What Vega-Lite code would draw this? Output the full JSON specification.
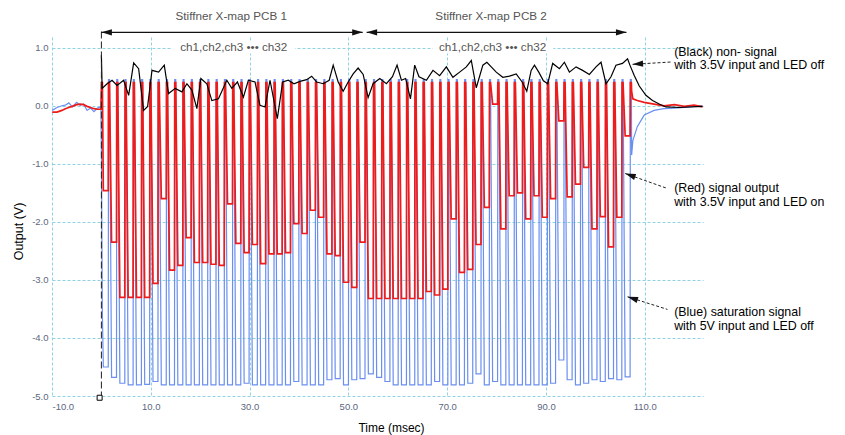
{
"$schema":"https://vega.github.io/schema/vega-lite/v6.json",
"width":651,"height":359,
"autosize":{"type":"none"},
"padding":{"left":52,"top":37,"right":142,"bottom":39},
"background":"white",
"config":{"view":{"stroke":null},"font":"Liberation Sans"},
"datasets":{
"ch":[
{"t":-9.96,"r":-0.11,"b":-0.08},{"t":-9.0,"r":-0.11,"b":-0.03},{"t":-8.0,"r":-0.08,"b":0.0},{"t":-7.3,"r":-0.05,"b":0.01},{"t":-6.6,"r":-0.03,"b":0.05},{"t":-5.9,"r":-0.01,"b":-0.02},{"t":-5.0,"r":0.02,"b":0.06},{"t":-4.3,"r":0.03,"b":0.01},{"t":-3.6,"r":0.02,"b":0.03},{"t":-2.9,"r":-0.01,"b":-0.08},{"t":-2.2,"r":-0.03,"b":-0.04},{"t":-1.5,"r":-0.05,"b":-0.1},{"t":-0.8,"r":-0.06,"b":-0.04},{"t":-0.1,"r":-0.06,"b":-0.02},{"t":0.02,"r":0.4,"b":-0.9},{"t":0.2,"r":0.4,"b":-3.6},
{"t":0.39,"r":-1.46,"b":-4.5},{"t":1.39,"r":-1.46,"b":-4.5},{"t":1.44,"r":0.4,"b":0.45},{"t":1.64,"r":0.4,"b":0.45},
{"t":2.06,"r":-2.35,"b":-4.68},{"t":3.06,"r":-2.35,"b":-4.68},{"t":3.11,"r":0.4,"b":0.45},{"t":3.31,"r":0.4,"b":0.45},
{"t":3.74,"r":-3.3,"b":-4.78},{"t":4.74,"r":-3.3,"b":-4.78},{"t":4.79,"r":0.4,"b":0.45},{"t":4.99,"r":0.4,"b":0.45},
{"t":5.42,"r":-3.3,"b":-4.81},{"t":6.42,"r":-3.3,"b":-4.81},{"t":6.47,"r":0.4,"b":0.45},{"t":6.67,"r":0.4,"b":0.45},
{"t":7.1,"r":-3.3,"b":-4.81},{"t":8.1,"r":-3.3,"b":-4.81},{"t":8.15,"r":0.4,"b":0.45},{"t":8.35,"r":0.4,"b":0.45},
{"t":8.77,"r":-3.3,"b":-4.8},{"t":9.77,"r":-3.3,"b":-4.8},{"t":9.82,"r":0.4,"b":0.45},{"t":10.02,"r":0.4,"b":0.45},
{"t":10.45,"r":-3.06,"b":-4.75},{"t":11.45,"r":-3.06,"b":-4.75},{"t":11.5,"r":0.4,"b":0.45},{"t":11.7,"r":0.4,"b":0.45},
{"t":12.13,"r":-1.6,"b":-4.81},{"t":13.13,"r":-1.6,"b":-4.81},{"t":13.18,"r":0.4,"b":0.45},{"t":13.38,"r":0.4,"b":0.45},
{"t":13.8,"r":-2.83,"b":-4.81},{"t":14.8,"r":-2.83,"b":-4.81},{"t":14.85,"r":0.4,"b":0.45},{"t":15.05,"r":0.4,"b":0.45},
{"t":15.48,"r":-2.75,"b":-4.81},{"t":16.48,"r":-2.75,"b":-4.81},{"t":16.53,"r":0.4,"b":0.45},{"t":16.73,"r":0.4,"b":0.45},
{"t":17.16,"r":-2.27,"b":-4.81},{"t":18.16,"r":-2.27,"b":-4.81},{"t":18.21,"r":0.4,"b":0.45},{"t":18.41,"r":0.4,"b":0.45},
{"t":18.83,"r":-2.7,"b":-4.81},{"t":19.83,"r":-2.7,"b":-4.81},{"t":19.88,"r":0.4,"b":0.45},{"t":20.08,"r":0.4,"b":0.45},
{"t":20.51,"r":-2.7,"b":-4.81},{"t":21.51,"r":-2.7,"b":-4.81},{"t":21.56,"r":0.4,"b":0.45},{"t":21.76,"r":0.4,"b":0.45},
{"t":22.19,"r":-2.73,"b":-4.81},{"t":23.19,"r":-2.73,"b":-4.81},{"t":23.24,"r":0.4,"b":0.45},{"t":23.44,"r":0.4,"b":0.45},
{"t":23.87,"r":-2.75,"b":-4.81},{"t":24.87,"r":-2.75,"b":-4.81},{"t":24.92,"r":0.4,"b":0.45},{"t":25.12,"r":0.4,"b":0.45},
{"t":25.54,"r":-1.69,"b":-4.81},{"t":26.54,"r":-1.69,"b":-4.81},{"t":26.59,"r":0.4,"b":0.45},{"t":26.79,"r":0.4,"b":0.45},
{"t":27.22,"r":-2.37,"b":-4.81},{"t":28.22,"r":-2.37,"b":-4.81},{"t":28.27,"r":0.4,"b":0.45},{"t":28.47,"r":0.4,"b":0.45},
{"t":28.9,"r":-2.53,"b":-4.78},{"t":29.9,"r":-2.53,"b":-4.78},{"t":29.95,"r":0.4,"b":0.45},{"t":30.15,"r":0.4,"b":0.45},
{"t":30.57,"r":-2.39,"b":-4.81},{"t":31.57,"r":-2.39,"b":-4.81},{"t":31.62,"r":0.4,"b":0.45},{"t":31.82,"r":0.4,"b":0.45},
{"t":32.25,"r":-2.72,"b":-4.81},{"t":33.25,"r":-2.72,"b":-4.81},{"t":33.3,"r":0.4,"b":0.45},{"t":33.5,"r":0.4,"b":0.45},
{"t":33.93,"r":-2.55,"b":-4.81},{"t":34.93,"r":-2.55,"b":-4.81},{"t":34.98,"r":0.4,"b":0.45},{"t":35.18,"r":0.4,"b":0.45},
{"t":35.6,"r":-2.55,"b":-4.81},{"t":36.6,"r":-2.55,"b":-4.81},{"t":36.65,"r":0.4,"b":0.45},{"t":36.85,"r":0.4,"b":0.45},
{"t":37.28,"r":-2.53,"b":-4.81},{"t":38.28,"r":-2.53,"b":-4.81},{"t":38.33,"r":0.4,"b":0.45},{"t":38.53,"r":0.4,"b":0.45},
{"t":38.96,"r":-2.03,"b":-4.75},{"t":39.96,"r":-2.03,"b":-4.75},{"t":40.01,"r":0.4,"b":0.45},{"t":40.21,"r":0.4,"b":0.45},
{"t":40.64,"r":-2.2,"b":-4.81},{"t":41.64,"r":-2.2,"b":-4.81},{"t":41.69,"r":0.4,"b":0.45},{"t":41.89,"r":0.4,"b":0.45},
{"t":42.31,"r":-1.8,"b":-4.81},{"t":43.31,"r":-1.8,"b":-4.81},{"t":43.36,"r":0.4,"b":0.45},{"t":43.56,"r":0.4,"b":0.45},
{"t":43.99,"r":-1.92,"b":-4.81},{"t":44.99,"r":-1.92,"b":-4.81},{"t":45.04,"r":0.4,"b":0.45},{"t":45.24,"r":0.4,"b":0.45},
{"t":45.67,"r":-2.55,"b":-4.72},{"t":46.67,"r":-2.55,"b":-4.72},{"t":46.72,"r":0.4,"b":0.45},{"t":46.92,"r":0.4,"b":0.45},
{"t":47.34,"r":-2.58,"b":-4.7},{"t":48.34,"r":-2.58,"b":-4.7},{"t":48.39,"r":0.4,"b":0.45},{"t":48.59,"r":0.4,"b":0.45},
{"t":49.02,"r":-3.04,"b":-4.81},{"t":50.02,"r":-3.04,"b":-4.81},{"t":50.07,"r":0.4,"b":0.45},{"t":50.27,"r":0.4,"b":0.45},
{"t":50.7,"r":-3.13,"b":-4.72},{"t":51.7,"r":-3.13,"b":-4.72},{"t":51.75,"r":0.4,"b":0.45},{"t":51.95,"r":0.4,"b":0.45},
{"t":52.37,"r":-2.35,"b":-4.7},{"t":53.37,"r":-2.35,"b":-4.7},{"t":53.42,"r":0.4,"b":0.45},{"t":53.62,"r":0.4,"b":0.45},
{"t":54.05,"r":-3.32,"b":-4.62},{"t":55.05,"r":-3.32,"b":-4.62},{"t":55.1,"r":0.4,"b":0.45},{"t":55.3,"r":0.4,"b":0.45},
{"t":55.73,"r":-3.32,"b":-4.68},{"t":56.73,"r":-3.32,"b":-4.68},{"t":56.78,"r":0.4,"b":0.45},{"t":56.98,"r":0.4,"b":0.45},
{"t":57.41,"r":-3.32,"b":-4.75},{"t":58.41,"r":-3.32,"b":-4.75},{"t":58.46,"r":0.4,"b":0.45},{"t":58.66,"r":0.4,"b":0.45},
{"t":59.08,"r":-3.32,"b":-4.81},{"t":60.08,"r":-3.32,"b":-4.81},{"t":60.13,"r":0.4,"b":0.45},{"t":60.33,"r":0.4,"b":0.45},
{"t":60.76,"r":-3.32,"b":-4.81},{"t":61.76,"r":-3.32,"b":-4.81},{"t":61.81,"r":0.4,"b":0.45},{"t":62.01,"r":0.4,"b":0.45},
{"t":62.44,"r":-3.32,"b":-4.81},{"t":63.44,"r":-3.32,"b":-4.81},{"t":63.49,"r":0.4,"b":0.45},{"t":63.69,"r":0.4,"b":0.45},
{"t":64.11,"r":-3.32,"b":-4.81},{"t":65.11,"r":-3.32,"b":-4.81},{"t":65.16,"r":0.4,"b":0.45},{"t":65.36,"r":0.4,"b":0.45},
{"t":65.79,"r":-3.2,"b":-4.81},{"t":66.79,"r":-3.2,"b":-4.81},{"t":66.84,"r":0.4,"b":0.45},{"t":67.04,"r":0.4,"b":0.45},
{"t":67.47,"r":-3.26,"b":-4.75},{"t":68.47,"r":-3.26,"b":-4.75},{"t":68.52,"r":0.4,"b":0.45},{"t":68.72,"r":0.4,"b":0.45},
{"t":69.14,"r":-3.16,"b":-4.81},{"t":70.14,"r":-3.16,"b":-4.81},{"t":70.19,"r":0.4,"b":0.45},{"t":70.39,"r":0.4,"b":0.45},
{"t":70.82,"r":-1.95,"b":-4.81},{"t":71.82,"r":-1.95,"b":-4.81},{"t":71.87,"r":0.4,"b":0.45},{"t":72.07,"r":0.4,"b":0.45},
{"t":72.5,"r":-2.87,"b":-4.81},{"t":73.5,"r":-2.87,"b":-4.81},{"t":73.55,"r":0.4,"b":0.45},{"t":73.75,"r":0.4,"b":0.45},
{"t":74.18,"r":-2.82,"b":-4.78},{"t":75.18,"r":-2.82,"b":-4.78},{"t":75.23,"r":0.4,"b":0.45},{"t":75.43,"r":0.4,"b":0.45},
{"t":75.85,"r":-2.39,"b":-4.62},{"t":76.85,"r":-2.39,"b":-4.62},{"t":76.9,"r":0.4,"b":0.45},{"t":77.1,"r":0.4,"b":0.45},
{"t":77.53,"r":-1.75,"b":-4.81},{"t":78.53,"r":-1.75,"b":-4.81},{"t":78.58,"r":0.4,"b":0.45},{"t":78.78,"r":0.4,"b":0.45},
{"t":79.21,"r":0.03,"b":-4.75},{"t":80.21,"r":0.03,"b":-4.75},{"t":80.26,"r":0.4,"b":0.45},{"t":80.46,"r":0.4,"b":0.45},
{"t":80.88,"r":-2.12,"b":-4.81},{"t":81.88,"r":-2.12,"b":-4.81},{"t":81.93,"r":0.4,"b":0.45},{"t":82.13,"r":0.4,"b":0.45},
{"t":82.56,"r":-1.55,"b":-4.81},{"t":83.56,"r":-1.55,"b":-4.81},{"t":83.61,"r":0.4,"b":0.45},{"t":83.81,"r":0.4,"b":0.45},
{"t":84.24,"r":-1.5,"b":-4.81},{"t":85.24,"r":-1.5,"b":-4.81},{"t":85.29,"r":0.4,"b":0.45},{"t":85.49,"r":0.4,"b":0.45},
{"t":85.91,"r":-1.95,"b":-4.81},{"t":86.91,"r":-1.95,"b":-4.81},{"t":86.96,"r":0.4,"b":0.45},{"t":87.16,"r":0.4,"b":0.45},
{"t":87.59,"r":-1.55,"b":-4.81},{"t":88.59,"r":-1.55,"b":-4.81},{"t":88.64,"r":0.4,"b":0.45},{"t":88.84,"r":0.4,"b":0.45},
{"t":89.27,"r":-1.92,"b":-4.81},{"t":90.27,"r":-1.92,"b":-4.81},{"t":90.32,"r":0.4,"b":0.45},{"t":90.52,"r":0.4,"b":0.45},
{"t":90.95,"r":-1.6,"b":-4.78},{"t":91.95,"r":-1.6,"b":-4.78},{"t":92.0,"r":0.4,"b":0.45},{"t":92.2,"r":0.4,"b":0.45},
{"t":92.62,"r":-0.26,"b":-4.38},{"t":93.62,"r":-0.26,"b":-4.38},{"t":93.67,"r":0.4,"b":0.45},{"t":93.87,"r":0.4,"b":0.45},
{"t":94.3,"r":-1.57,"b":-4.72},{"t":95.3,"r":-1.57,"b":-4.72},{"t":95.35,"r":0.4,"b":0.45},{"t":95.55,"r":0.4,"b":0.45},
{"t":95.98,"r":-1.35,"b":-4.81},{"t":96.98,"r":-1.35,"b":-4.81},{"t":97.03,"r":0.4,"b":0.45},{"t":97.23,"r":0.4,"b":0.45},
{"t":97.65,"r":-1.06,"b":-4.78},{"t":98.65,"r":-1.06,"b":-4.78},{"t":98.7,"r":0.4,"b":0.45},{"t":98.9,"r":0.4,"b":0.45},
{"t":99.33,"r":-2.12,"b":-4.72},{"t":100.33,"r":-2.12,"b":-4.72},{"t":100.38,"r":0.4,"b":0.45},{"t":100.58,"r":0.4,"b":0.45},
{"t":101.01,"r":-1.91,"b":-4.75},{"t":102.01,"r":-1.91,"b":-4.75},{"t":102.06,"r":0.4,"b":0.45},{"t":102.26,"r":0.4,"b":0.45},
{"t":102.68,"r":-2.43,"b":-4.7},{"t":103.68,"r":-2.43,"b":-4.7},{"t":103.73,"r":0.4,"b":0.45},{"t":103.93,"r":0.4,"b":0.45},
{"t":104.36,"r":-1.92,"b":-4.72},{"t":105.36,"r":-1.92,"b":-4.72},{"t":105.41,"r":0.4,"b":0.45},{"t":105.61,"r":0.4,"b":0.45},
{"t":106.04,"r":-0.52,"b":-4.67},{"t":107.04,"r":-0.52,"b":-4.67},{"t":107.09,"r":0.4,"b":0.45},{"t":107.29,"r":0.4,"b":0.45},
{"t":107.35,"r":0.25,"b":-0.85},{"t":107.6,"r":0.12,"b":-0.6},{"t":108.5,"r":0.09,"b":-0.36},{"t":109.9,"r":0.06,"b":-0.16},{"t":111.9,"r":0.03,"b":-0.08},{"t":113.9,"r":0.0,"b":-0.05},{"t":116.0,"r":0.02,"b":-0.04},{"t":118.0,"r":-0.01,"b":-0.03},{"t":120.0,"r":0.01,"b":-0.01},{"t":121.7,"r":-0.02,"b":0.0}
],
"blk":[
{"t":0,"v":0.87},{"t":0.15,"v":0.3},{"t":1.15,"v":0.38},{"t":2.16,"v":0.44},{"t":3.17,"v":0.35},{"t":4.5,"v":0.44},{"t":5.52,"v":0.18},{"t":6.53,"v":0.74},{"t":7.54,"v":0.64},{"t":8.55,"v":-0.08},{"t":9.36,"v":-0.01},{"t":10.24,"v":0.61},{"t":11.58,"v":0.58},{"t":12.73,"v":0.7},{"t":13.6,"v":0.21},{"t":14.95,"v":0.3},{"t":16.3,"v":0.24},{"t":17.31,"v":0.38},{"t":18.32,"v":0.27},{"t":19.33,"v":-0.05},{"t":20.14,"v":0.47},{"t":21.35,"v":0.38},{"t":22.36,"v":0.09},{"t":23.7,"v":0.12},{"t":25.39,"v":0.44},{"t":26.4,"v":0.3},{"t":27.54,"v":0.41},{"t":28.75,"v":0.15},{"t":29.76,"v":0.44},{"t":31.1,"v":0.41},{"t":32.1,"v":0.01},{"t":33.13,"v":-0.02},{"t":34.14,"v":0.44},{"t":35.62,"v":-0.22},{"t":36.7,"v":0.41},{"t":37.84,"v":0.44},{"t":38.99,"v":0.38},{"t":40.2,"v":0.42},{"t":41.55,"v":0.45},{"t":42.57,"v":0.51},{"t":43.57,"v":0.41},{"t":44.91,"v":0.38},{"t":46.12,"v":0.44},{"t":46.93,"v":0.7},{"t":47.94,"v":0.41},{"t":48.95,"v":0.25},{"t":49.96,"v":0.41},{"t":50.97,"v":0.55},{"t":51.98,"v":0.65},{"t":53.0,"v":0.54},{"t":54.0,"v":0.14},{"t":55.01,"v":0.38},{"t":56.36,"v":0.47},{"t":57.7,"v":0.38},{"t":58.93,"v":0.5},{"t":59.86,"v":0.7},{"t":60.74,"v":0.44},{"t":61.6,"v":0.47},{"t":62.57,"v":0.12},{"t":63.43,"v":0.7},{"t":64.3,"v":0.5},{"t":65.8,"v":0.44},{"t":67.13,"v":0.61},{"t":68.48,"v":0.52},{"t":69.84,"v":0.67},{"t":71.17,"v":0.49},{"t":72.53,"v":0.58},{"t":73.88,"v":0.67},{"t":74.89,"v":0.78},{"t":75.9,"v":0.31},{"t":77.23,"v":0.7},{"t":78.04,"v":0.75},{"t":78.93,"v":0.67},{"t":79.94,"v":0.58},{"t":81.27,"v":0.49},{"t":82.63,"v":0.51},{"t":83.98,"v":0.55},{"t":85.19,"v":0.41},{"t":86.12,"v":0.25},{"t":87.01,"v":0.61},{"t":87.68,"v":0.7},{"t":88.55,"v":0.58},{"t":89.49,"v":0.43},{"t":90.36,"v":0.38},{"t":91.37,"v":0.73},{"t":92.73,"v":0.64},{"t":93.74,"v":0.75},{"t":94.75,"v":0.58},{"t":96.1,"v":0.67},{"t":97.43,"v":0.61},{"t":98.79,"v":0.54},{"t":100.14,"v":0.67},{"t":101.15,"v":0.75},{"t":102.16,"v":0.38},{"t":103.17,"v":0.5},{"t":104.18,"v":0.7},{"t":105.5,"v":0.73},{"t":106.53,"v":0.81},{"t":107.0,"v":0.7},{"t":107.88,"v":0.52},{"t":108.9,"v":0.34},{"t":110.24,"v":0.18},{"t":111.58,"v":0.09},{"t":112.93,"v":0.03},{"t":114.28,"v":-0.02},{"t":116.97,"v":-0.03},{"t":121.7,"v":-0.01}
],
"bg":[{"t":14.3,"t2":39.2,"v":0.9,"v2":1.11},{"t":67.1,"t2":91.5,"v":0.9,"v2":1.11}],
"hdr":[{"t":26.3,"v":1.54,"label":"Stiffner X-map PCB 1"},{"t":78.9,"v":1.54,"label":"Stiffner X-map PCB 2"},{"t":26.8,"v":1.01,"label":"ch1,ch2,ch3 ••• ch32"},{"t":79.2,"v":1.01,"label":"ch1,ch2,ch3 ••• ch32"}],
"harr":[{"t":0,"v":1.265,"t2":52.9,"v2":1.265},{"t":53.7,"v":1.265,"t2":106.3,"v2":1.265}],
"aarr":[{"t":107.54,"v":0.714,"t2":115.29,"v2":0.754},{"t":106.06,"v":-1.167,"t2":114.6,"v2":-1.425},{"t":106.53,"v":-3.291,"t2":114.6,"v2":-3.508}],
"mk":[{"t":0,"v":1.28,"t2":0,"v2":-5.0}],
"sq":[{"t":-0.36,"v":-5.03}],
"heads":[{"t":0,"v":1.265,"ang":0},{"t":52.9,"v":1.265,"ang":180},{"t":53.7,"v":1.265,"ang":0},{"t":106.3,"v":1.265,"ang":180},{"t":107.54,"v":0.714,"ang":356.6},{"t":106.06,"v":-1.167,"ang":19.5},{"t":106.53,"v":-3.291,"ang":17.5}],
"notes":[{"t":115.96,"v":0.93,"label":"(Black) non- signal"},{"t":115.96,"v":0.695,"label":"with 3.5V input and LED off"},{"t":115.96,"v":-1.42,"label":"(Red)  signal output"},{"t":115.96,"v":-1.66,"label":"with 3.5V input and LED on"},{"t":115.96,"v":-3.545,"label":"(Blue) saturation signal"},{"t":115.96,"v":-3.8,"label":"with 5V input and LED off"}]
},
"encoding":{
"x":{"field":"t","type":"quantitative","scale":{"domain":[-10,121.8],"nice":false,"zero":false},
"axis":{"values":[-10,10,30,50,70,90,110],"labelExpr":"(datum.value < 0 ? '-' : '') + format(abs(datum.value), '.1f')","grid":true,"gridColor":"#8fd3e2","gridDash":[3,2],"domain":false,"ticks":false,"labelPadding":5,"labelFontSize":9.5,"labelColor":"#5c6780","labelFont":"Liberation Sans","title":"Time (msec)","titleFont":"Liberation Sans","titleFontSize":12,"titleFontWeight":"normal","titleColor":"#000","titleX":339,"titleY":31,"titleBaseline":"middle","titleAlign":"center"}},
"y":{"field":"v","type":"quantitative","scale":{"domain":[-5,1.185],"nice":false,"zero":false},
"axis":{"values":[-5,-4,-3,-2,-1,0,1],"labelExpr":"(datum.value < 0 ? '-' : '') + format(abs(datum.value), '.1f')","grid":true,"gridColor":"#8fd3e2","gridDash":[3,2],"domain":false,"ticks":false,"labelPadding":4,"labelFontSize":9.5,"labelColor":"#5c6780","labelFont":"Liberation Sans","title":"Output (V)","titleFont":"Liberation Sans","titleFontSize":12.5,"titleFontWeight":"normal","titleColor":"#000","titleX":-34,"titleY":194,"titleAngle":270,"titleBaseline":"middle","titleAlign":"center"}}
},
"layer":[
{"data":{"name":"ch"},"transform":[{"fold":["b","r"],"as":["s","v"]}],"mark":{"type":"line","clip":true},
"encoding":{"color":{"field":"s","type":"nominal","scale":{"domain":["b","r"],"range":["#6a8ff0","#ee1b1b"]},"legend":null},
"strokeWidth":{"field":"s","type":"nominal","scale":{"domain":["b","r"],"range":[1.2,1.7]},"legend":null}}},
{"data":{"name":"blk"},"mark":{"type":"line","color":"#000","strokeWidth":1.2,"clip":true},"encoding":{}},
{"data":{"name":"mk"},"mark":{"type":"rule","color":"#222","strokeWidth":1,"strokeDash":[7,3]},"encoding":{"x2":{"field":"t2"},"y2":{"field":"v2"}}},
{"data":{"name":"sq"},"mark":{"type":"point","shape":"square","size":25,"filled":true,"fill":"white","stroke":"#000","strokeWidth":1,"opacity":1},"encoding":{}},
{"data":{"name":"bg"},"mark":{"type":"rect","color":"white"},"encoding":{"x2":{"field":"t2"},"y2":{"field":"v2"}}},
{"data":{"name":"hdr"},"mark":{"type":"text","align":"center","baseline":"middle","fontSize":11.7,"color":"#555"},"encoding":{"text":{"field":"label"}}},
{"data":{"name":"harr"},"mark":{"type":"rule","color":"#111","strokeWidth":1.2},"encoding":{"x2":{"field":"t2"},"y2":{"field":"v2"}}},
{"data":{"name":"aarr"},"mark":{"type":"rule","color":"#222","strokeWidth":1,"strokeDash":[3,2]},"encoding":{"x2":{"field":"t2"},"y2":{"field":"v2"}}},
{"data":{"name":"heads"},"mark":{"type":"point","shape":"M0,0L2,-0.6L2,0.6Z","filled":true,"size":110,"color":"#111","opacity":1},"encoding":{"angle":{"field":"ang","type":"quantitative","scale":null}}},
{"data":{"name":"notes"},"mark":{"type":"text","align":"left","baseline":"middle","fontSize":12.4,"color":"#000"},"encoding":{"text":{"field":"label"}}}
]
}
